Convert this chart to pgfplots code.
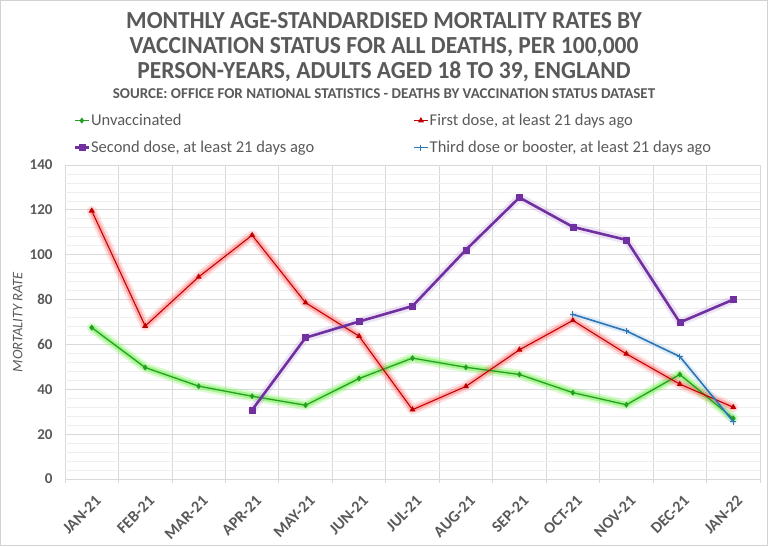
\documentclass[border=0pt]{standalone}
\usepackage{pgfplots}
\pgfplotsset{compat=1.18}
\usepackage{pgfplotstable}
\usepackage{fontspec}
\setmainfont{Carlito}
\definecolor{txt}{HTML}{595959}
\definecolor{gridmaj}{HTML}{D9D9D9}
\definecolor{gridmin}{HTML}{EFEFEF}
\definecolor{cgreen}{HTML}{23A023}
\definecolor{ggreen}{HTML}{7CF05A}
\definecolor{cred}{HTML}{C00000}
\definecolor{gred}{HTML}{FF6A6A}
\definecolor{cpurple}{HTML}{7030A0}
\definecolor{gpurple}{HTML}{B894DC}
\definecolor{cblue}{HTML}{2E75B6}
\definecolor{gblue}{HTML}{9DC3E6}

\pgfplotstableread{
x y
0 67.5
1 49.7
2 41.4
3 36.9
4 32.9
5 44.8
6 53.9
7 49.8
8 46.6
9 38.5
10 33.1
11 46.6
12 27.0
}\unvax
\pgfplotstableread{
x y
0 119.6
1 68.2
2 90.1
3 108.7
4 78.6
5 63.7
6 30.9
7 41.3
8 57.6
9 70.7
10 55.8
11 42.3
12 32.0
}\firstdose
\pgfplotstableread{
x y
3 30.8
4 63.0
5 70.2
6 77.1
7 102.2
8 125.5
9 112.4
10 106.6
11 69.8
12 80.0
}\seconddose
\pgfplotstableread{
x y
9 73.4
10 66.0
11 54.6
12 25.6
}\thirddose

\begin{document}
\begin{tikzpicture}[x=1pt,y=1pt]
\useasboundingbox (0,0) rectangle (768,546);
\draw[gray!35,line width=1pt] (0.5,0.5) rectangle (767.5,545.5);
\begin{scope}[every node/.style={text=txt,font=\bfseries\fontsize{24.5}{25}\selectfont,anchor=base,inner sep=0pt}]
\node at (384,517.7) {\scalebox{0.96}[1]{MONTHLY AGE-STANDARDISED MORTALITY RATES BY}};
\node at (384,492.7) {\scalebox{0.96}[1]{VACCINATION STATUS FOR ALL DEATHS, PER 100,000}};
\node at (384,467.7) {\scalebox{0.96}[1]{PERSON-YEARS, ADULTS AGED 18 TO 39, ENGLAND}};
\node[font=\bfseries\fontsize{15}{17}\selectfont] at (384,447.7) {SOURCE: OFFICE FOR NATIONAL STATISTICS - DEATHS BY VACCINATION STATUS DATASET};
\end{scope}
\begin{axis}[
  at={(65pt,67pt)}, anchor=south west,
  scale only axis, width=695pt, height=314pt,
  xmin=-0.5, xmax=12.5, ymin=0, ymax=140,
  xtick={0,...,12},
  xticklabels={JAN-21,FEB-21,MAR-21,APR-21,MAY-21,JUN-21,JUL-21,AUG-21,SEP-21,OCT-21,NOV-21,DEC-21,JAN-22},
  minor xtick={-0.5,0.5,...,12.5},
  ytick={0,20,...,140},
  minor ytick={4,8,12,16,24,28,32,36,44,48,52,56,64,68,72,76,84,88,92,96,104,108,112,116,124,128,132,136},
  xmajorgrids=false, xminorgrids=true, ymajorgrids=true, yminorgrids=true,
  major grid style={gridmaj, line width=0.8pt},
  minor grid style={gridmin, line width=0.7pt},
  minor x grid style={gridmaj, line width=0.8pt},
  axis line style={draw=none},
  major tick length=0pt,
  minor tick length=4pt,
  tick align=outside, tick pos=bottom,
  minor tick style={gridmaj, line width=0.8pt},
  ytick style={draw=none},
  /pgf/number format/assume math mode=true,
  tick label style={text=txt, font=\bfseries\fontsize{15}{17}\selectfont},
  xticklabel style={anchor=east, font=\bfseries\fontsize{16}{18}\selectfont, xshift=9pt, yshift=-17pt, rotate=45},
  yticklabel style={xshift=-9pt},
  ylabel={MORTALITY RATE},
  ylabel style={at={(axis description cs:-0.068,0.5)}, anchor=center, text=txt, font=\itshape\fontsize{14.5}{16}\selectfont},
  legend columns=2,
  legend cell align=left,
  legend style={draw=none, fill=none, at={(axis description cs:0.012,1.166)}, anchor=north west,
    inner sep=0pt, row sep=12pt, text=txt, font=\fontsize{16.5}{18}\selectfont,
    nodes={inner sep=1pt}},
  legend image code/.code={\draw[mark repeat=2,mark phase=2,#1] plot coordinates {(0pt,0pt) (7pt,0pt) (14pt,0pt)};},
]
% glows
\addplot[forget plot, ggreen, line width=10pt, opacity=0.28, line join=round, line cap=round] table {\unvax};
\addplot[forget plot, ggreen, line width=5.5pt, opacity=0.55, line join=round, line cap=round] table {\unvax};
\addplot[forget plot, gred, line width=10pt, opacity=0.2, line join=round, line cap=round] table {\firstdose};
\addplot[forget plot, gred, line width=5.5pt, opacity=0.42, line join=round, line cap=round] table {\firstdose};
\addplot[forget plot, gpurple, line width=8pt, opacity=0.25, line join=round, line cap=round] table {\seconddose};
\addplot[forget plot, gblue, line width=6pt, opacity=0.3, line join=round, line cap=round] table {\thirddose};
% lines
\addplot[cgreen, line width=1.3pt, mark=diamond*, mark size=2pt, mark options={fill=cgreen}] table {\unvax};
\addlegendentry{\makebox[321pt][l]{Unvaccinated}}
\addplot[cred, line width=1.1pt, mark=triangle*, mark size=2.4pt, mark options={fill=cred}] table {\firstdose};
\addlegendentry{First dose, at least 21 days ago}
\addplot[cpurple, line width=2.6pt, mark=square*, mark size=3pt, mark options={fill=cpurple, line width=0.5pt}] table {\seconddose};
\addlegendentry{\makebox[321pt][l]{Second dose, at least 21 days ago}}
\addplot[cblue, line width=1.6pt, mark=+, mark size=3pt, mark options={line width=1pt}] table {\thirddose};
\addlegendentry{Third dose or booster, at least 21 days ago}
\end{axis}
\end{tikzpicture}
\end{document}
